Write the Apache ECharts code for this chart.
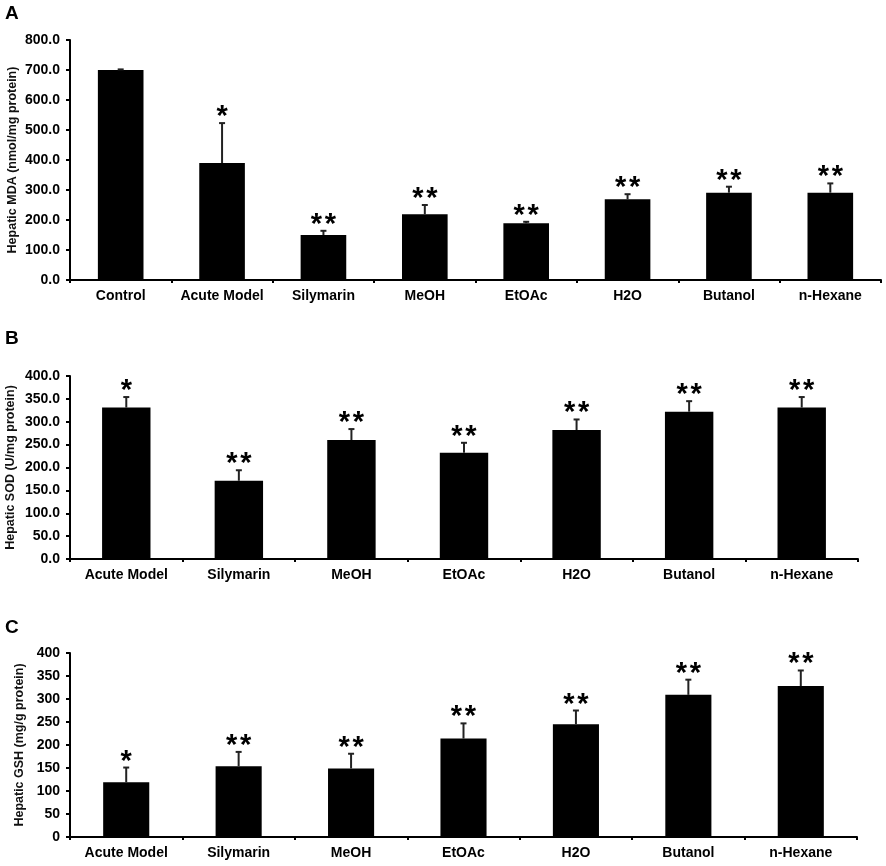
<!DOCTYPE html>
<html lang="en">
<head>
  <meta charset="UTF-8">
  <title>Hepatic MDA, SOD, GSH</title>
  <style>
    html, body { margin: 0; padding: 0; background: #fff; }
  </style>
</head>
<body>
  <div id="main" style="width: 886px; height: 866px"></div>
  <script src="https://cdn.jsdelivr.net/npm/echarts@6/dist/echarts.min.js"></script>
  <script>
    // panel A - MDA
    const groupsA = ['Control', 'Acute Model', 'Silymarin', 'MeOH', 'EtOAc', 'H2O', 'Butanol', 'n-Hexane']
    const mdaMean = [700, 390, 150, 219, 189, 269, 291, 291]
    const mdaErr = [2, 133, 14, 31, 5, 17, 20, 31]
    const mdaSig = ['', '*', '**', '**', '**', '**', '**', '**']
    const mdaTicks = [0, 800, 100]

    // panel B - SOD
    const groupsB = ['Acute Model', 'Silymarin', 'MeOH', 'EtOAc', 'H2O', 'Butanol', 'n-Hexane']
    const sodMean = [331, 171, 260, 232, 282, 322, 331]
    const sodErr = [23, 23, 24, 22, 23, 23, 23]
    const sodSig = ['*', '**', '**', '**', '**', '**', '**']
    const sodTicks = [0, 400, 50]

    // panel C - GSH
    const groupsC = ['Acute Model', 'Silymarin', 'MeOH', 'EtOAc', 'H2O', 'Butanol', 'n-Hexane']
    const gshMean = [119, 154, 149, 214, 245, 309, 328]
    const gshErr = [32, 31, 32, 33, 30, 33, 34]
    const gshSig = ['*', '**', '**', '**', '**', '**', '**']
    const gshTicks = [0, 400, 50]

    const FONT = 'Liberation Sans, Arial, sans-serif'

    const myChart = echarts.init(document.getElementById('main'))

    function xAxisFor(idx, cats) {
      return {
        type: 'category', gridIndex: idx, data: cats,
        axisLine: { lineStyle: { color: '#000', width: 2 } },
        axisTick: { show: true, length: 3, lineStyle: { color: '#000', width: 2 } },
        axisLabel: { color: '#000', fontWeight: 'bold', fontSize: 14, fontFamily: FONT, margin: 9, interval: 0 }
      }
    }

    function yAxisFor(idx, ticks, name, digits, gap) {
      return {
        type: 'value', gridIndex: idx, min: ticks[0], max: ticks[1], interval: ticks[2],
        name: name, nameLocation: 'middle', nameGap: gap, nameMoveOverlap: false,
        nameTextStyle: { color: '#111', fontSize: 12.5, fontWeight: 'bold', fontFamily: FONT },
        splitLine: { show: false },
        axisLine: { show: true, lineStyle: { color: '#000', width: 2 } },
        axisTick: { show: true, length: 4, lineStyle: { color: '#000', width: 2 } },
        axisLabel: {
          color: '#000', fontWeight: 'bold', fontSize: 14, fontFamily: FONT, margin: 10,
          formatter: v => v.toFixed(digits)
        }
      }
    }

    function barsFor(idx, mean, width) {
      return {
        type: 'bar', xAxisIndex: idx, yAxisIndex: idx, data: mean,
        barWidth: width, itemStyle: { color: '#000' }, silent: true
      }
    }

    // upper error whisker with cap, plus significance stars
    function errorFor(idx, mean, err, sig) {
      return {
        type: 'custom', xAxisIndex: idx, yAxisIndex: idx, z: 5, clip: false, silent: true,
        data: mean.map((m, i) => [i, m, m + err[i]]),
        renderItem: function(params, api) {
          const base = api.coord([api.value(0), api.value(1)])
          const top = api.coord([api.value(0), api.value(2)])
          const x = base[0]
          const n = sig[params.dataIndex].length
          const kids = [
            { type: 'line', shape: { x1: x, y1: base[1], x2: x, y2: top[1] }, style: { stroke: '#222', lineWidth: 2 } },
            { type: 'line', shape: { x1: x - 3, y1: top[1], x2: x + 3, y2: top[1] }, style: { stroke: '#222', lineWidth: 2 } }
          ]
          for (let k = 0; k < n; k++) {
            kids.push({
              type: 'text', x: x + (k - (n - 1) / 2) * 14, y: top[1] - 6,
              style: { text: '*', fill: '#000', font: 'bold 29px ' + FONT, textAlign: 'center', textVerticalAlign: 'middle' }
            })
          }
          return { type: 'group', children: kids }
        }
      }
    }

    const option = {
      animation: false,
      backgroundColor: '#fff',
      graphic: [
        { type: 'text', left: 5, top: 4, style: { text: 'A', font: 'bold 19px ' + FONT, fill: '#000' } },
        { type: 'text', left: 5, top: 329, style: { text: 'B', font: 'bold 19px ' + FONT, fill: '#000' } },
        { type: 'text', left: 5, top: 618, style: { text: 'C', font: 'bold 19px ' + FONT, fill: '#000' } }
      ],
      grid: [
        { left: 70, top: 40, width: 811, height: 240, containLabel: false, outerBoundsMode: 'none' },
        { left: 70, top: 376, width: 788, height: 183, containLabel: false, outerBoundsMode: 'none' },
        { left: 70, top: 653, width: 787, height: 184, containLabel: false, outerBoundsMode: 'none' }
      ],
      xAxis: [xAxisFor(0, groupsA), xAxisFor(1, groupsB), xAxisFor(2, groupsC)],
      yAxis: [
        yAxisFor(0, mdaTicks, 'Hepatic MDA (nmol/mg protein)', 1, 51),
        yAxisFor(1, sodTicks, 'Hepatic SOD (U/mg protein)', 1, 53),
        yAxisFor(2, gshTicks, 'Hepatic GSH (mg/g protein)', 0, 44)
      ],
      series: [
        barsFor(0, mdaMean, '45%'),
        barsFor(1, sodMean, '43%'),
        barsFor(2, gshMean, '41%'),
        errorFor(0, mdaMean, mdaErr, mdaSig),
        errorFor(1, sodMean, sodErr, sodSig),
        errorFor(2, gshMean, gshErr, gshSig)
      ]
    }
    myChart.setOption(option)
  </script>
</body>
</html>
